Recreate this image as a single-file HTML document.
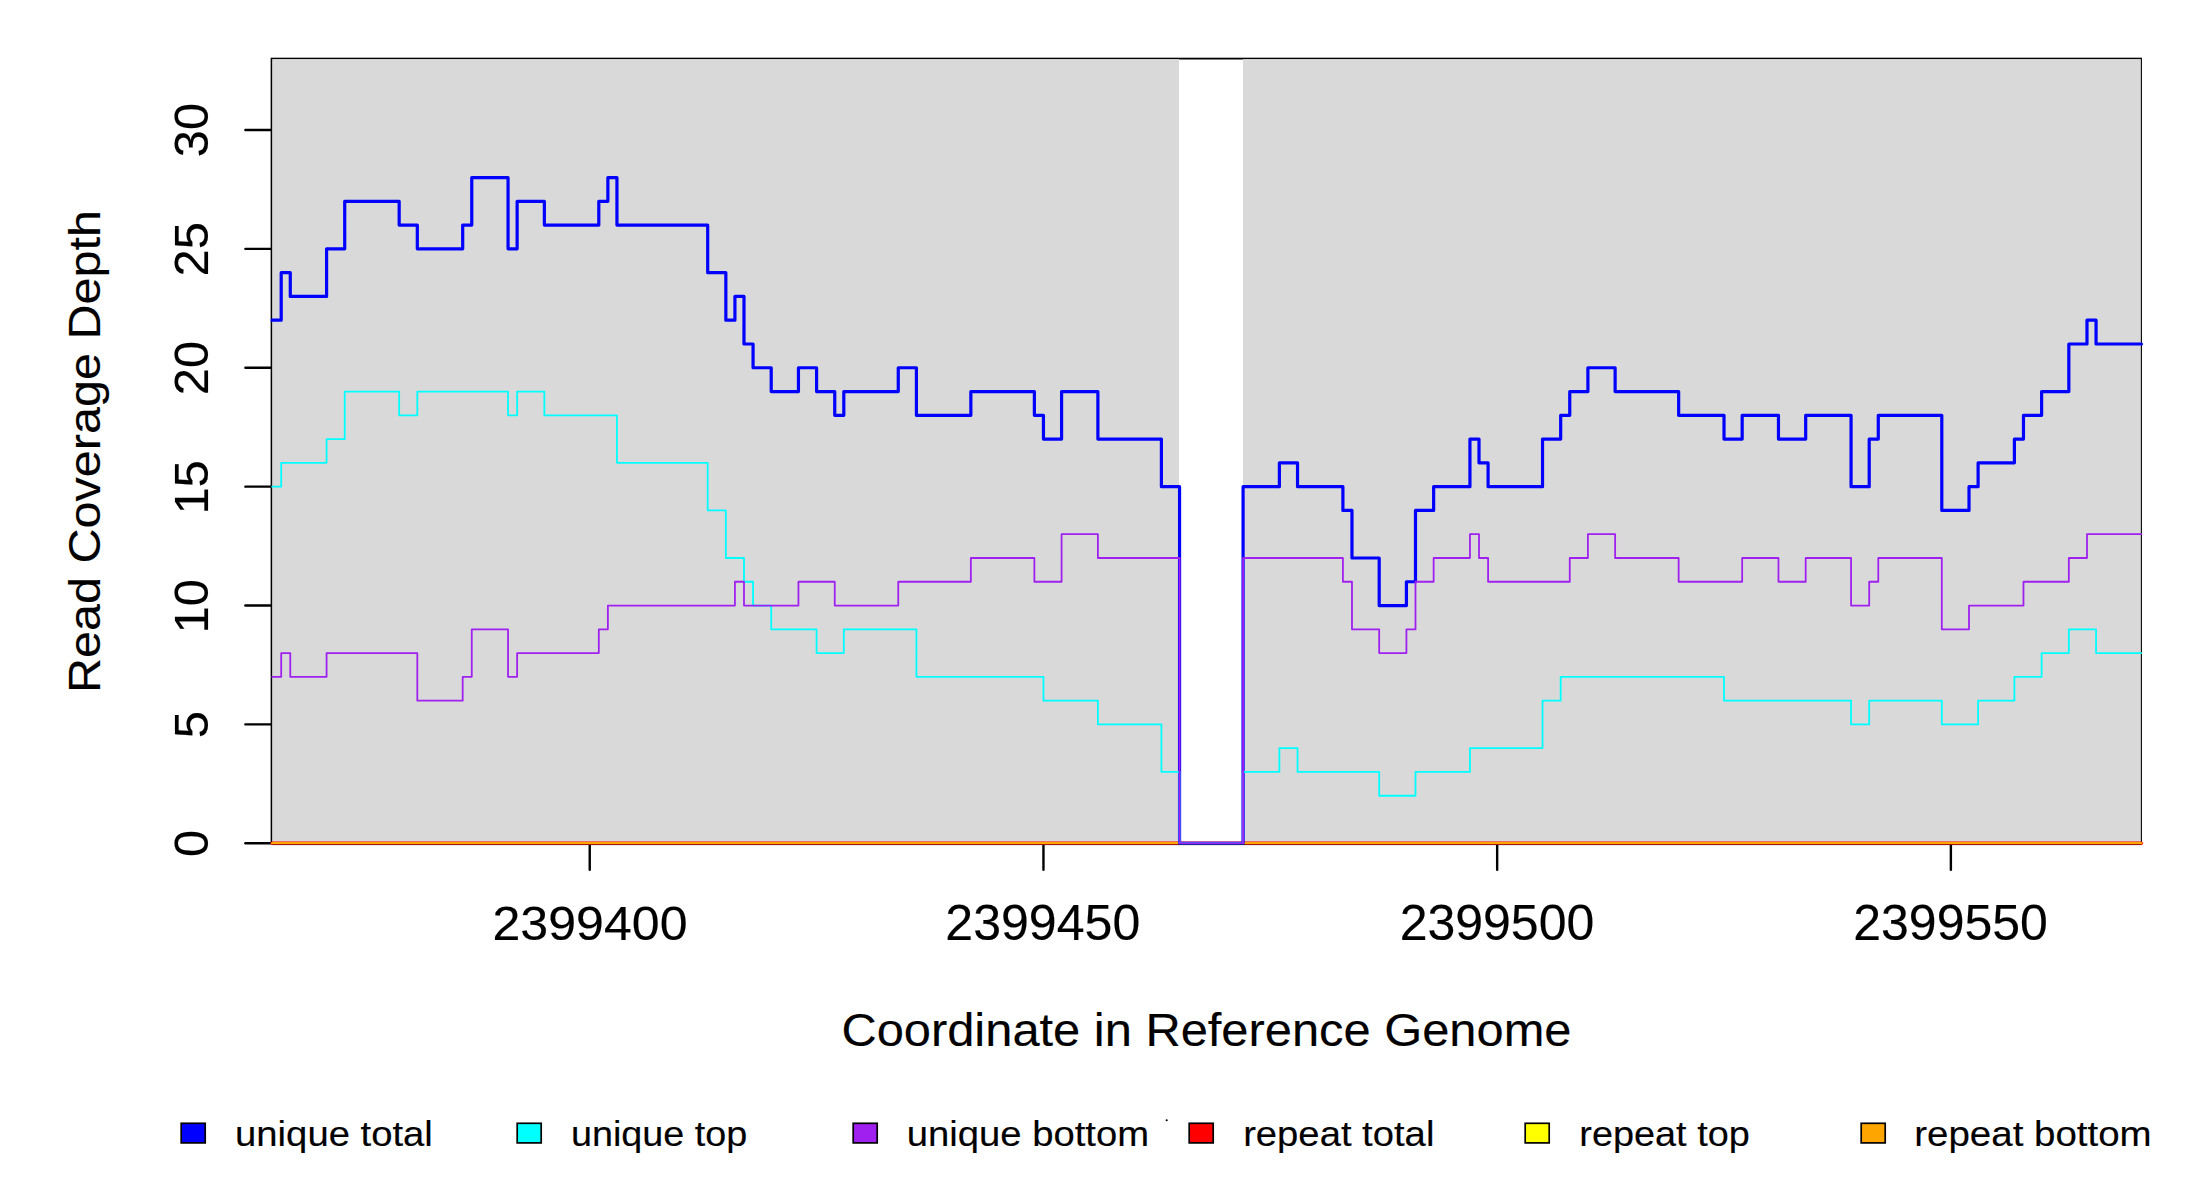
<!DOCTYPE html>
<html><head><meta charset="utf-8"><style>
html,body{margin:0;padding:0;background:#fff;width:2200px;height:1200px;overflow:hidden;font-family:"Liberation Sans",sans-serif;}
svg{display:block;}
</style></head><body>
<svg width="2200" height="1200" viewBox="0 0 2200 1200">
<rect x="0" y="0" width="2200" height="1200" fill="#ffffff"/>
<rect x="271.53" y="58.6" width="1869.51" height="784.70" fill="none" stroke="#000" stroke-width="1.8"/>
<rect x="272.43" y="59.1" width="906.57" height="784.20" fill="#d9d9d9"/>
<rect x="1242.98" y="59.1" width="897.86" height="784.20" fill="#d9d9d9"/>
<path d="M245.4 843.30 H270.6" stroke="#000" stroke-width="2.4" stroke-linecap="round"/>
<path d="M245.4 724.41 H270.6" stroke="#000" stroke-width="2.4" stroke-linecap="round"/>
<path d="M245.4 605.53 H270.6" stroke="#000" stroke-width="2.4" stroke-linecap="round"/>
<path d="M245.4 486.64 H270.6" stroke="#000" stroke-width="2.4" stroke-linecap="round"/>
<path d="M245.4 367.76 H270.6" stroke="#000" stroke-width="2.4" stroke-linecap="round"/>
<path d="M245.4 248.87 H270.6" stroke="#000" stroke-width="2.4" stroke-linecap="round"/>
<path d="M245.4 129.99 H270.6" stroke="#000" stroke-width="2.4" stroke-linecap="round"/>
<path d="M589.73 844.30 V869.7" stroke="#000" stroke-width="2.4" stroke-linecap="round"/>
<path d="M1043.45 844.30 V869.7" stroke="#000" stroke-width="2.4" stroke-linecap="round"/>
<path d="M1497.16 844.30 V869.7" stroke="#000" stroke-width="2.4" stroke-linecap="round"/>
<path d="M1950.88 844.30 V869.7" stroke="#000" stroke-width="2.4" stroke-linecap="round"/>
<path d="M272.13 843.30 H2141.44" stroke="#ff0000" stroke-width="3.4" fill="none" stroke-linecap="round"/>
<path d="M272.13 843.20 H2141.44" stroke="#ffa500" stroke-width="2.2" fill="none" stroke-linecap="round"/>
<path d="M272.13 320.21 H281.20 V272.65 H290.28 V296.43 H326.58 V248.87 H344.72 V201.32 H399.17 V225.10 H417.32 V248.87 H462.69 V225.10 H471.76 V177.54 H508.06 V248.87 H517.14 V201.32 H544.36 V225.10 H598.80 V201.32 H607.88 V177.54 H616.95 V225.10 H707.70 V272.65 H725.85 V320.21 H734.92 V296.43 H743.99 V343.98 H753.07 V367.76 H771.22 V391.54 H798.44 V367.76 H816.59 V391.54 H834.74 V415.31 H843.81 V391.54 H898.26 V367.76 H916.41 V415.31 H970.85 V391.54 H1034.37 V415.31 H1043.45 V439.09 H1061.59 V391.54 H1097.89 V439.09 H1161.41 V486.64 H1179.56 V843.30 H1243.08 V486.64 H1279.38 V462.87 H1297.53 V486.64 H1342.90 V510.42 H1351.97 V557.98 H1379.19 V605.53 H1406.42 V581.75 H1415.49 V510.42 H1433.64 V486.64 H1469.94 V439.09 H1479.01 V462.87 H1488.09 V486.64 H1542.53 V439.09 H1560.68 V415.31 H1569.75 V391.54 H1587.90 V367.76 H1615.13 V391.54 H1678.65 V415.31 H1724.02 V439.09 H1742.17 V415.31 H1778.46 V439.09 H1805.69 V415.31 H1851.06 V486.64 H1869.21 V439.09 H1878.28 V415.31 H1941.80 V510.42 H1969.02 V486.64 H1978.10 V462.87 H2014.40 V439.09 H2023.47 V415.31 H2041.62 V391.54 H2068.84 V343.98 H2086.99 V320.21 H2096.06 V343.98 H2141.44" stroke="#0000ff" stroke-width="3.2" fill="none" stroke-linejoin="round" stroke-linecap="round"/>
<path d="M272.13 486.64 H281.20 V462.87 H326.58 V439.09 H344.72 V391.54 H399.17 V415.31 H417.32 V391.54 H508.06 V415.31 H517.14 V391.54 H544.36 V415.31 H616.95 V462.87 H707.70 V510.42 H725.85 V557.98 H743.99 V581.75 H753.07 V605.53 H771.22 V629.31 H816.59 V653.08 H843.81 V629.31 H916.41 V676.86 H1043.45 V700.64 H1097.89 V724.41 H1161.41 V771.97 H1179.56 V843.30 H1243.08 V771.97 H1279.38 V748.19 H1297.53 V771.97 H1379.19 V795.75 H1415.49 V771.97 H1469.94 V748.19 H1542.53 V700.64 H1560.68 V676.86 H1724.02 V700.64 H1851.06 V724.41 H1869.21 V700.64 H1941.80 V724.41 H1978.10 V700.64 H2014.40 V676.86 H2041.62 V653.08 H2068.84 V629.31 H2096.06 V653.08 H2141.44" stroke="#00ffff" stroke-width="1.8" fill="none" stroke-linejoin="round" stroke-linecap="round"/>
<path d="M272.13 676.86 H281.20 V653.08 H290.28 V676.86 H326.58 V653.08 H417.32 V700.64 H462.69 V676.86 H471.76 V629.31 H508.06 V676.86 H517.14 V653.08 H598.80 V629.31 H607.88 V605.53 H734.92 V581.75 H743.99 V605.53 H798.44 V581.75 H834.74 V605.53 H898.26 V581.75 H970.85 V557.98 H1034.37 V581.75 H1061.59 V534.20 H1097.89 V557.98 H1179.56 V843.30 H1243.08 V557.98 H1342.90 V581.75 H1351.97 V629.31 H1379.19 V653.08 H1406.42 V629.31 H1415.49 V581.75 H1433.64 V557.98 H1469.94 V534.20 H1479.01 V557.98 H1488.09 V581.75 H1569.75 V557.98 H1587.90 V534.20 H1615.13 V557.98 H1678.65 V581.75 H1742.17 V557.98 H1778.46 V581.75 H1805.69 V557.98 H1851.06 V605.53 H1869.21 V581.75 H1878.28 V557.98 H1941.80 V629.31 H1969.02 V605.53 H2023.47 V581.75 H2068.84 V557.98 H2086.99 V534.20 H2141.44" stroke="#a020f0" stroke-width="1.8" fill="none" stroke-linejoin="round" stroke-linecap="round"/>
<path d="M272.13 844.6 H2141.44" stroke="#000" stroke-opacity="0.35" stroke-width="1.2" fill="none"/>
<g transform="matrix(1.05517 0 0 1.02179 -32.207 -20.285)"><text x="589.73" y="939.60" font-size="47.50" text-anchor="middle" font-family="Liberation Sans, sans-serif" fill="#000" stroke="#000" stroke-width="0.15">2399400</text></g>
<g transform="matrix(1.05492 0 0 1.04569 -57.945 -42.753)"><text x="1043.45" y="939.60" font-size="47.50" text-anchor="middle" font-family="Liberation Sans, sans-serif" fill="#000" stroke="#000" stroke-width="0.15">2399450</text></g>
<g transform="matrix(1.05293 0 0 1.04569 -79.434 -42.753)"><text x="1497.17" y="939.60" font-size="47.50" text-anchor="middle" font-family="Liberation Sans, sans-serif" fill="#000" stroke="#000" stroke-width="0.15">2399500</text></g>
<g transform="matrix(1.05262 0 0 1.04569 -102.970 -42.753)"><text x="1950.89" y="939.60" font-size="47.50" text-anchor="middle" font-family="Liberation Sans, sans-serif" fill="#000" stroke="#000" stroke-width="0.15">2399550</text></g>
<g transform="matrix(1.01348 0 0 1.03000 -3.336 -25.309)"><text x="208.90" y="843.30" font-size="47.50" text-anchor="middle" font-family="Liberation Sans, sans-serif" transform="rotate(-90 208.90 843.30)" fill="#000" stroke="#000" stroke-width="0.15">0</text></g>
<g transform="matrix(1.02564 0 0 1.03000 -5.872 -21.538)"><text x="208.90" y="724.40" font-size="47.50" text-anchor="middle" font-family="Liberation Sans, sans-serif" transform="rotate(-90 208.90 724.40)" fill="#000" stroke="#000" stroke-width="0.15">5</text></g>
<g transform="matrix(1.01348 0 0 1.03000 -3.336 -17.357)"><text x="208.90" y="605.50" font-size="47.50" text-anchor="middle" font-family="Liberation Sans, sans-serif" transform="rotate(-90 208.90 605.50)" fill="#000" stroke="#000" stroke-width="0.15">10</text></g>
<g transform="matrix(1.02540 0 0 1.03000 -5.829 -13.800)"><text x="208.90" y="486.60" font-size="47.50" text-anchor="middle" font-family="Liberation Sans, sans-serif" transform="rotate(-90 208.90 486.60)" fill="#000" stroke="#000" stroke-width="0.15">15</text></g>
<g transform="matrix(1.01325 0 0 1.03000 -3.295 -10.733)"><text x="208.90" y="367.80" font-size="47.50" text-anchor="middle" font-family="Liberation Sans, sans-serif" transform="rotate(-90 208.90 367.80)" fill="#000" stroke="#000" stroke-width="0.15">20</text></g>
<g transform="matrix(1.01442 0 0 1.03000 -3.541 -7.180)"><text x="208.90" y="248.90" font-size="47.50" text-anchor="middle" font-family="Liberation Sans, sans-serif" transform="rotate(-90 208.90 248.90)" fill="#000" stroke="#000" stroke-width="0.15">25</text></g>
<g transform="matrix(1.01372 0 0 1.03000 -3.377 -3.908)"><text x="208.90" y="130.00" font-size="47.50" text-anchor="middle" font-family="Liberation Sans, sans-serif" transform="rotate(-90 208.90 130.00)" fill="#000" stroke="#000" stroke-width="0.15">30</text></g>
<g transform="matrix(0.97306 0 0 1.05562 1.850 -24.500)"><text x="101.00" y="450.90" font-size="46.00" text-anchor="middle" font-family="Liberation Sans, sans-serif" transform="rotate(-90 101.00 450.90)" fill="#000" stroke="#000" stroke-width="0.15">Read Coverage Depth</text></g>
<g transform="matrix(1.06163 0 0 1.00882 -74.788 -9.029)"><text x="1206.85" y="1045.80" font-size="46.00" text-anchor="middle" font-family="Liberation Sans, sans-serif" fill="#000" stroke="#000" stroke-width="0.15">Coordinate in Reference Genome</text></g>
<g transform="matrix(1.10907 0 0 1.00303 -27.898 -3.694)"><text x="237.10" y="1145.80" font-size="34.50" text-anchor="start" font-family="Liberation Sans, sans-serif" fill="#000" stroke="#000" stroke-width="0.15">unique total</text></g>
<g transform="matrix(1.09489 0 0 1.00303 -55.986 -3.694)"><text x="572.60" y="1145.80" font-size="34.50" text-anchor="start" font-family="Liberation Sans, sans-serif" fill="#000" stroke="#000" stroke-width="0.15">unique top</text></g>
<g transform="matrix(1.10837 0 0 1.00303 -100.148 -3.694)"><text x="908.50" y="1145.80" font-size="34.50" text-anchor="start" font-family="Liberation Sans, sans-serif" fill="#000" stroke="#000" stroke-width="0.15">unique bottom</text></g>
<g transform="matrix(1.10820 0 0 1.00303 -135.471 -3.694)"><text x="1244.00" y="1145.80" font-size="34.50" text-anchor="start" font-family="Liberation Sans, sans-serif" fill="#000" stroke="#000" stroke-width="0.15">repeat total</text></g>
<g transform="matrix(1.09690 0 0 1.00333 -154.381 -4.043)"><text x="1580.60" y="1145.80" font-size="34.50" text-anchor="start" font-family="Liberation Sans, sans-serif" fill="#000" stroke="#000" stroke-width="0.15">repeat top</text></g>
<g transform="matrix(1.11579 0 0 1.00303 -224.657 -3.694)"><text x="1916.90" y="1145.80" font-size="34.50" text-anchor="start" font-family="Liberation Sans, sans-serif" fill="#000" stroke="#000" stroke-width="0.15">repeat bottom</text></g>
<rect x="181.20" y="1123.3" width="24.0" height="19.6" fill="#0000ff" stroke="#000" stroke-width="1.7"/>
<rect x="517.20" y="1123.3" width="24.0" height="19.6" fill="#00ffff" stroke="#000" stroke-width="1.7"/>
<rect x="853.20" y="1123.3" width="24.0" height="19.6" fill="#a020f0" stroke="#000" stroke-width="1.7"/>
<rect x="1189.20" y="1123.3" width="24.0" height="19.6" fill="#ff0000" stroke="#000" stroke-width="1.7"/>
<rect x="1525.20" y="1123.3" width="24.0" height="19.6" fill="#ffff00" stroke="#000" stroke-width="1.7"/>
<rect x="1861.20" y="1123.3" width="24.0" height="19.6" fill="#ffa500" stroke="#000" stroke-width="1.7"/>
<circle cx="1166.7" cy="1120.3" r="1.05" fill="#000"/>
</svg>
</body></html>
